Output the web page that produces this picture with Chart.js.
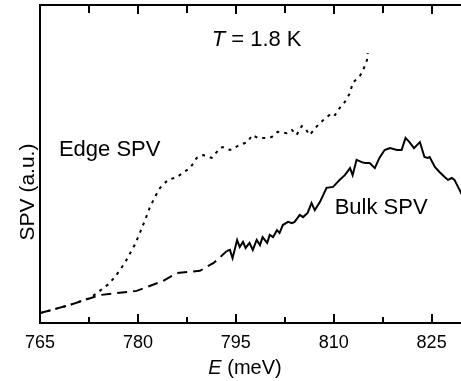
<!DOCTYPE html>
<html>
<head>
<meta charset="utf-8">
<script src="https://cdn.jsdelivr.net/npm/chart.js@4.4.1/dist/chart.umd.min.js"></script>
<style>
  body { margin: 0; background: #fff; }
  #wrap { width: 461px; height: 381px; }
</style>
</head>
<body>
<div id="wrap"><canvas id="myChart" width="461" height="381"></canvas></div>
<script>
// photon energy E (meV) and SPV signal (a.u., 0..1)

// bulk SPV, low-energy part (dashed)
const bulkLowE = [765.0, 769.6, 774.2, 779.8, 783.8, 786.0, 789.5, 791.6, 793.6];
const bulkLowV = [0.031, 0.057, 0.088, 0.101, 0.132, 0.157, 0.164, 0.189, 0.226];

// bulk SPV (solid)
const bulkE = [793.6, 794.1, 794.5, 795.2, 795.6, 796.1, 796.5, 797.1, 797.6, 798.2,
  798.7, 799.1, 799.8, 800.2, 800.7, 801.3, 801.7, 802.2, 803.0, 803.6,
  804.0, 804.8, 805.3, 806.0, 806.6, 807.1, 807.9, 808.9, 809.9, 810.9,
  811.7, 812.5, 812.9, 813.5, 814.3, 814.8, 815.5, 816.3, 817.0, 817.8,
  818.6, 819.7, 820.4, 821.0, 821.6, 822.3, 823.2, 823.9, 824.4, 824.7,
  825.5, 826.2, 827.0, 827.5, 828.1, 828.5, 829.3, 829.6];
const bulkV = [0.226, 0.230, 0.204, 0.261, 0.239, 0.255, 0.236, 0.252, 0.230, 0.261,
  0.245, 0.270, 0.252, 0.277, 0.270, 0.292, 0.283, 0.308, 0.318, 0.314,
  0.318, 0.340, 0.333, 0.346, 0.377, 0.355, 0.381, 0.425, 0.428, 0.450,
  0.465, 0.487, 0.465, 0.513, 0.506, 0.503, 0.503, 0.487, 0.519, 0.544,
  0.550, 0.544, 0.544, 0.582, 0.569, 0.550, 0.569, 0.522, 0.519, 0.522,
  0.491, 0.475, 0.459, 0.450, 0.456, 0.450, 0.418, 0.405];

// edge SPV (dotted)
const edgeE = [765.0, 769.6, 772.7, 773.9, 775.3, 776.5, 778.0, 779.5, 780.3, 781.1,
  781.8, 782.6, 783.4, 784.6, 786.0, 787.5, 788.0, 789.0, 790.0, 791.3,
  792.6, 793.0, 794.1, 795.6, 796.8, 797.5, 798.4, 799.8, 800.5, 801.4,
  802.8, 803.6, 804.3, 805.1, 805.6, 806.3, 807.6, 808.6, 809.7, 810.2,
  810.9, 811.7, 812.5, 812.9, 814.0, 814.4, 815.1, 815.2];
const edgeV = [0.031, 0.057, 0.079, 0.097, 0.119, 0.145, 0.189, 0.245, 0.283, 0.324,
  0.362, 0.396, 0.425, 0.450, 0.459, 0.481, 0.487, 0.519, 0.528, 0.519,
  0.550, 0.553, 0.544, 0.560, 0.569, 0.591, 0.582, 0.582, 0.585, 0.601,
  0.597, 0.607, 0.591, 0.619, 0.613, 0.591, 0.623, 0.642, 0.660, 0.654,
  0.676, 0.695, 0.723, 0.755, 0.777, 0.789, 0.827, 0.849];

const majorTicks = [765, 780, 795, 810, 825];
const minorTicks = [772.5, 787.5, 802.5, 817.5];

const FONT = 'Arial, "Liberation Sans", Helvetica, sans-serif';

function pts(xs, ys) {
  return xs.map((e, i) => ({ x: e, y: ys[i] }));
}

// draw a run of text pieces, some italic, starting at x
function drawParts(ctx, parts, x, y, size) {
  parts.forEach(p => {
    ctx.font = (p.italic ? 'italic ' : '') + size + 'px ' + FONT;
    ctx.fillText(p.t, x, y);
    x += ctx.measureText(p.t).width;
  });
}
function partsWidth(ctx, parts, size) {
  let w = 0;
  parts.forEach(p => {
    ctx.font = (p.italic ? 'italic ' : '') + size + 'px ' + FONT;
    w += ctx.measureText(p.t).width;
  });
  return w;
}

const framePlugin = {
  id: 'frame',
  afterDraw(chart) {
    const { ctx, chartArea: a, scales: { x, y } } = chart;
    ctx.save();
    ctx.setLineDash([]);
    ctx.strokeStyle = '#000';
    ctx.fillStyle = '#000';

    // frame (left, top, bottom)
    ctx.lineWidth = 2;
    ctx.beginPath();
    ctx.moveTo(a.right, a.top);
    ctx.lineTo(a.left, a.top);
    ctx.lineTo(a.left, a.bottom);
    ctx.lineTo(a.right, a.bottom);
    ctx.stroke();

    // inward ticks on bottom and top
    majorTicks.forEach(v => {
      const px = Math.round(x.getPixelForValue(v));
      ctx.fillRect(px - 1, a.bottom - 9, 2, 9);
      ctx.fillRect(px - 1, a.top, 2, 9);
    });
    minorTicks.forEach(v => {
      const px = Math.round(x.getPixelForValue(v));
      ctx.fillRect(px - 1, a.bottom - 6, 2, 6);
      ctx.fillRect(px - 1, a.top, 2, 8);
    });

    // annotations
    ctx.textBaseline = 'alphabetic';
    ctx.textAlign = 'left';
    drawParts(ctx, [{ t: 'T', italic: true }, { t: ' = 1.8 K' }],
      x.getPixelForValue(791.3), y.getPixelForValue(0.871), 22);
    drawParts(ctx, [{ t: 'Edge SPV' }],
      x.getPixelForValue(767.9), y.getPixelForValue(0.525), 22);
    drawParts(ctx, [{ t: 'Bulk SPV' }],
      x.getPixelForValue(810.15), y.getPixelForValue(0.343), 22);

    // x axis title
    const xt = [{ t: 'E', italic: true }, { t: ' (meV)' }];
    const w = partsWidth(ctx, xt, 20);
    drawParts(ctx, xt, 245 - w / 2, 374, 20);

    // y axis title
    ctx.save();
    ctx.translate(28, 192);
    ctx.rotate(-Math.PI / 2);
    ctx.textAlign = 'center';
    ctx.textBaseline = 'middle';
    ctx.font = '21px ' + FONT;
    ctx.fillText('SPV (a.u.)', 0, 0);
    ctx.restore();

    ctx.restore();
  }
};

const ctx = document.getElementById('myChart').getContext('2d');
const chart = new Chart(ctx, {
  type: 'line',
  data: {
    datasets: [
      {
        label: 'Bulk SPV (low E)',
        data: pts(bulkLowE, bulkLowV),
        borderColor: '#000',
        borderWidth: 2,
        borderDash: [10, 6],
        pointRadius: 0,
        fill: false
      },
      {
        label: 'Bulk SPV',
        data: pts(bulkE, bulkV),
        borderColor: '#000',
        borderWidth: 2,
        pointRadius: 0,
        fill: false
      },
      {
        label: 'Edge SPV',
        data: pts(edgeE, edgeV),
        borderColor: '#000',
        borderWidth: 2,
        borderDash: [3, 5],
        pointRadius: 0,
        fill: false
      }
    ]
  },
  options: {
    responsive: false,
    animation: false,
    layout: { padding: { top: 5, right: 0, left: 0, bottom: 0 } },
    plugins: { legend: { display: false }, tooltip: { enabled: false } },
    scales: {
      x: {
        type: 'linear',
        min: 765,
        max: 829.5,
        afterFit: s => { s.height = 58; },
        grid: { display: false, drawTicks: false },
        border: { display: false },
        ticks: {
          stepSize: 7.5,
          includeBounds: false,
          autoSkip: false,
          maxRotation: 0,
          padding: 9,
          color: '#000',
          font: { family: FONT, size: 18 },
          callback: v => majorTicks.includes(v) ? String(v) : ''
        }
      },
      y: {
        min: 0,
        max: 1,
        afterFit: s => { s.width = 40; },
        grid: { display: false, drawTicks: false },
        border: { display: false },
        ticks: { display: false }
      }
    }
  },
  plugins: [framePlugin]
});
</script>
</body>
</html>
